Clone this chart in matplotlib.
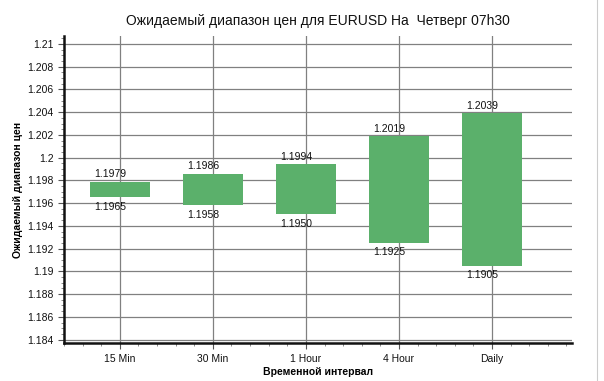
import numpy as np
import matplotlib
matplotlib.use("Agg")
import matplotlib.pyplot as plt
from matplotlib.ticker import MultipleLocator, FuncFormatter
from matplotlib.lines import Line2D

# data
intervals = ["15 Min", "30 Min", "1 Hour", "4 Hour", "Daily"]
low = [1.1965, 1.1958, 1.1950, 1.1925, 1.1905]
high = [1.1979, 1.1986, 1.1994, 1.2019, 1.2039]

title = "Ожидаемый диапазон цен для EURUSD На  Четверг 07h30"
xlabel = "Временной интервал"
ylabel = "Ожидаемый диапазон цен"

plt.rcParams['font.family'] = ['Liberation Sans', 'DejaVu Sans']

fig = plt.figure(figsize=(6.04, 3.81), dpi=100)
ax = fig.add_axes([0.106, 0.0997, 0.841, 0.806])

x = np.arange(len(intervals))
lo = np.array(low)
hi = np.array(high)
bar_w = 0.65
bars = ax.bar(x, hi - lo, bottom=lo, width=bar_w, color="#5bb06b", zorder=3)

# value labels above / below each bar
for xi, l, h in zip(x, lo, hi):
    ax.annotate(f"{h:.4f}", (xi - bar_w / 2, h), xytext=(3.5, 1.5),
                textcoords="offset points", ha="left", va="bottom",
                fontsize=7.5, color="#111111", zorder=4)
    ax.annotate(f"{l:.4f}", (xi - bar_w / 2, l), xytext=(3.5, -3),
                textcoords="offset points", ha="left", va="top",
                fontsize=7.5, color="#111111", zorder=4)

ax.set_xlim(-0.6, 4.86)
ax.set_ylim(1.1837, 1.2107)

ax.set_xticks(x)
ax.set_xticklabels(intervals)
ax.xaxis.set_minor_locator(MultipleLocator(0.2))
ax.yaxis.set_major_locator(MultipleLocator(0.002))
ax.yaxis.set_minor_locator(MultipleLocator(0.0005))
ax.yaxis.set_major_formatter(FuncFormatter(lambda v, p: f"{v:.3f}".rstrip("0").rstrip(".")))

ax.grid(True, which="major", color="#808080", linewidth=0.9, zorder=1)
ax.set_axisbelow(True)

for s in ["top", "right"]:
    ax.spines[s].set_visible(False)
for s in ["left", "bottom"]:
    ax.spines[s].set_linewidth(1.8)
    ax.spines[s].set_color("#111111")

ax.tick_params(axis="both", which="major", labelsize=7.5, length=4, width=0.8,
               colors="#555555", labelcolor="#111111")
ax.tick_params(axis="both", which="minor", length=2.5, width=0.6, colors="#777777")
ax.tick_params(axis="x", which="major", pad=4)

ax.set_title(title, fontsize=10, color="#111111", pad=8)
ax.set_xlabel(xlabel, fontsize=7.5, fontweight="bold", labelpad=2)
ax.set_ylabel(ylabel, fontsize=7.5, fontweight="bold", labelpad=3)

# thin border at the right of the picture
fig.add_artist(Line2D([0.989, 0.989], [0, 1], transform=fig.transFigure,
                      color="#cccccc", linewidth=0.8))

fig.savefig("out.png", dpi=100)
